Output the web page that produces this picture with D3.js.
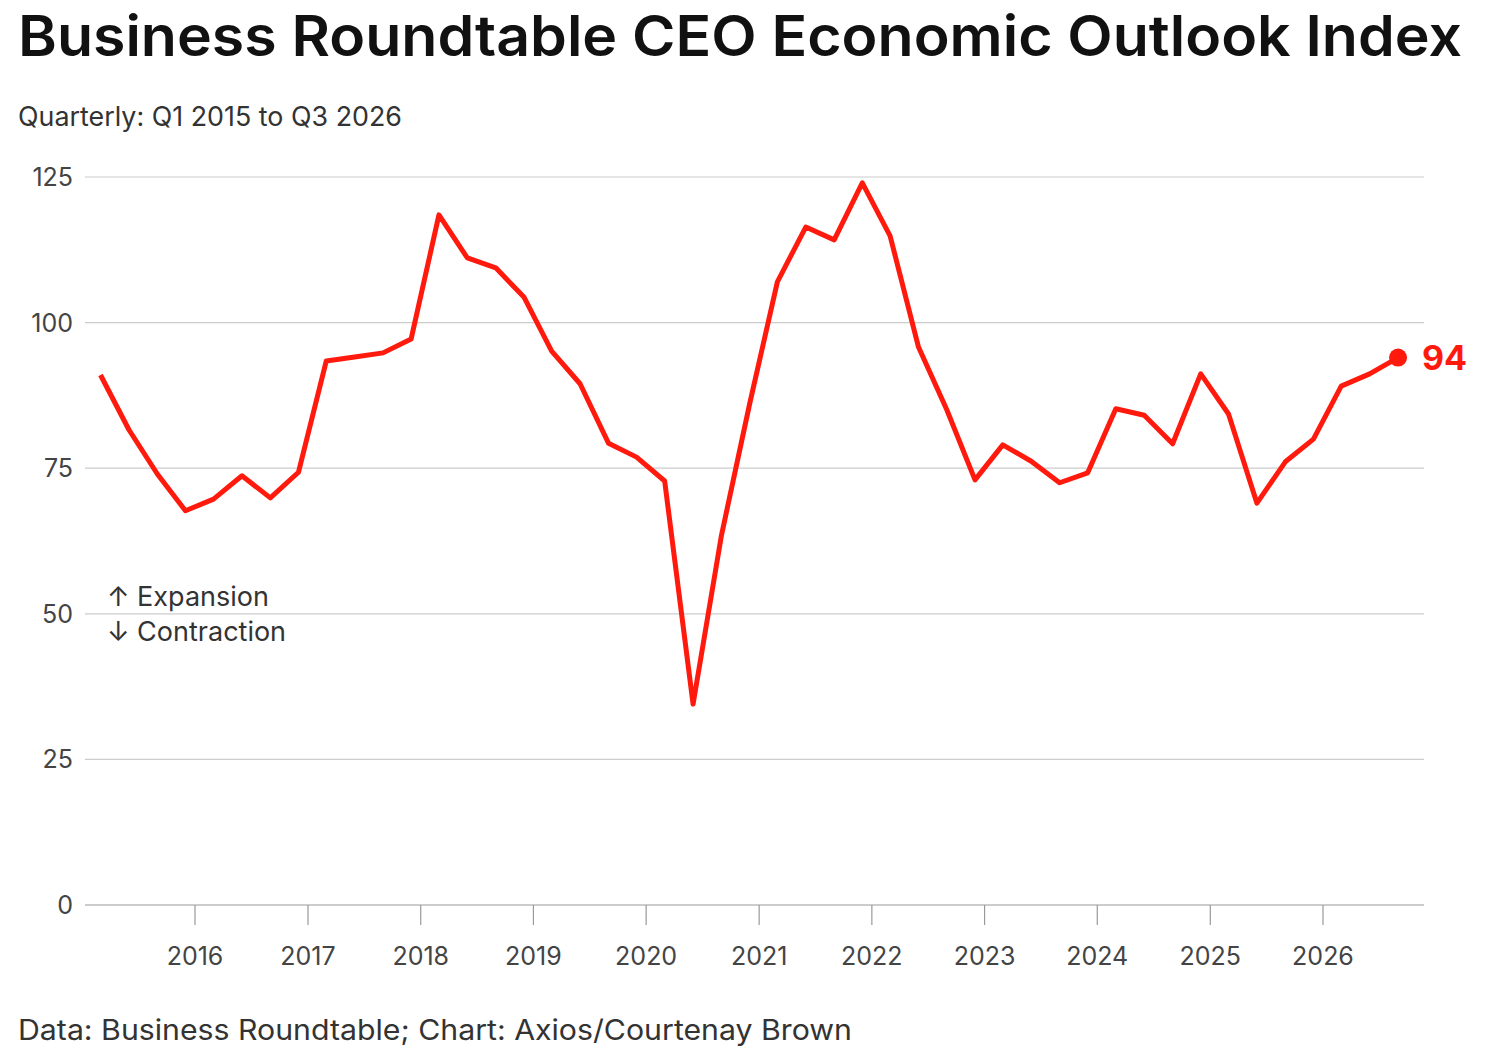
<!DOCTYPE html>
<html><head><meta charset="utf-8">
<script src="https://cdn.jsdelivr.net/npm/d3@7"></script>
<style>body{margin:0;background:#fff;font-family:Inter,"Noto Sans",sans-serif}</style>
</head><body><svg id="c" width="1485" height="1059"></svg>
<script>
const quarters = d3.range(47).map(i => ({year: 2015 + Math.floor(i/4), q: i%4 + 1}));
const values = [91,81.6,74,67.7,69.7,73.7,69.9,74.3,93.4,94.1,94.8,97.2,118.5,111.1,109.4,104.4,95.1,89.5,79.3,76.9,72.8,34.5,63.5,86,107,116.4,114.2,124,114.9,95.8,85,73,79,76.2,72.5,74.2,85.2,84.1,79.2,91.2,84.3,69,76.1,80,89.1,91.2,94];
const yTicks = [0,25,50,75,100,125];
const xTicks = [2016,2017,2018,2019,2020,2021,2022,2023,2024,2025,2026];

const svg = d3.select("#c");
const toDate = d => new Date(d.year, (d.q-1)*3 + 2, 1);
const x = d3.scaleTime().domain([new Date(2016,0,1), new Date(2026,0,1)]).range([195,1323]);
const y = d3.scaleLinear().domain([0,125]).range([905,177]);

svg.append("text").attr("x",18).attr("y",56).attr("font-size",56).attr("font-weight",600).attr("fill","#111").attr("textLength",1444).attr("lengthAdjust","spacingAndGlyphs").text("Business Roundtable CEO Economic Outlook Index");
svg.append("text").attr("x",18).attr("y",126).attr("font-size",27).attr("fill","#333").attr("textLength",384).attr("lengthAdjust","spacingAndGlyphs").text("Quarterly: Q1 2015 to Q3 2026");
svg.append("text").attr("x",18).attr("y",1040).attr("font-size",28).attr("fill","#333").attr("textLength",834).attr("lengthAdjust","spacingAndGlyphs").text("Data: Business Roundtable; Chart: Axios/Courtenay Brown");

const g = svg.append("g");
yTicks.forEach(t => {
  g.append("line").attr("x1",85).attr("x2",1424).attr("y1",y(t)).attr("y2",y(t)).attr("stroke",t===0?"#999":"#ccc").attr("stroke-width",1.2);
  g.append("text").attr("x",73).attr("y",y(t)+9).attr("text-anchor","end").attr("font-size",25).attr("fill","#444").text(t);
});
xTicks.forEach(t => {
  const xx = x(new Date(t,0,1));
  g.append("line").attr("x1",xx).attr("x2",xx).attr("y1",905).attr("y2",925).attr("stroke","#999").attr("stroke-width",1.2);
  g.append("text").attr("x",xx).attr("y",965).attr("text-anchor","middle").attr("font-size",25).attr("fill","#444").text(t);
});

g.append("text").attr("x",107).attr("y",606).attr("font-size",27).attr("fill","#333").text("↑ Expansion");
g.append("text").attr("x",107).attr("y",641).attr("font-size",27).attr("fill","#333").text("↓ Contraction");

const data = quarters.map((d,i)=>({date:toDate(d), v:values[i]}));
g.append("path").datum(data).attr("fill","none").attr("stroke","#ff1a0d").attr("stroke-width",5).attr("stroke-linejoin","round")
 .attr("d", d3.line().x(d=>x(d.date)).y(d=>y(d.v)));
const last = data[data.length-1];
g.append("circle").attr("cx",x(last.date)).attr("cy",y(last.v)).attr("r",9).attr("fill","#ff1a0d");
g.append("text").attr("x",x(last.date)+24).attr("y",y(last.v)+12).attr("font-size",34).attr("font-weight",700).attr("fill","#ff1a0d").text(Math.round(last.v));
</script></body></html>
